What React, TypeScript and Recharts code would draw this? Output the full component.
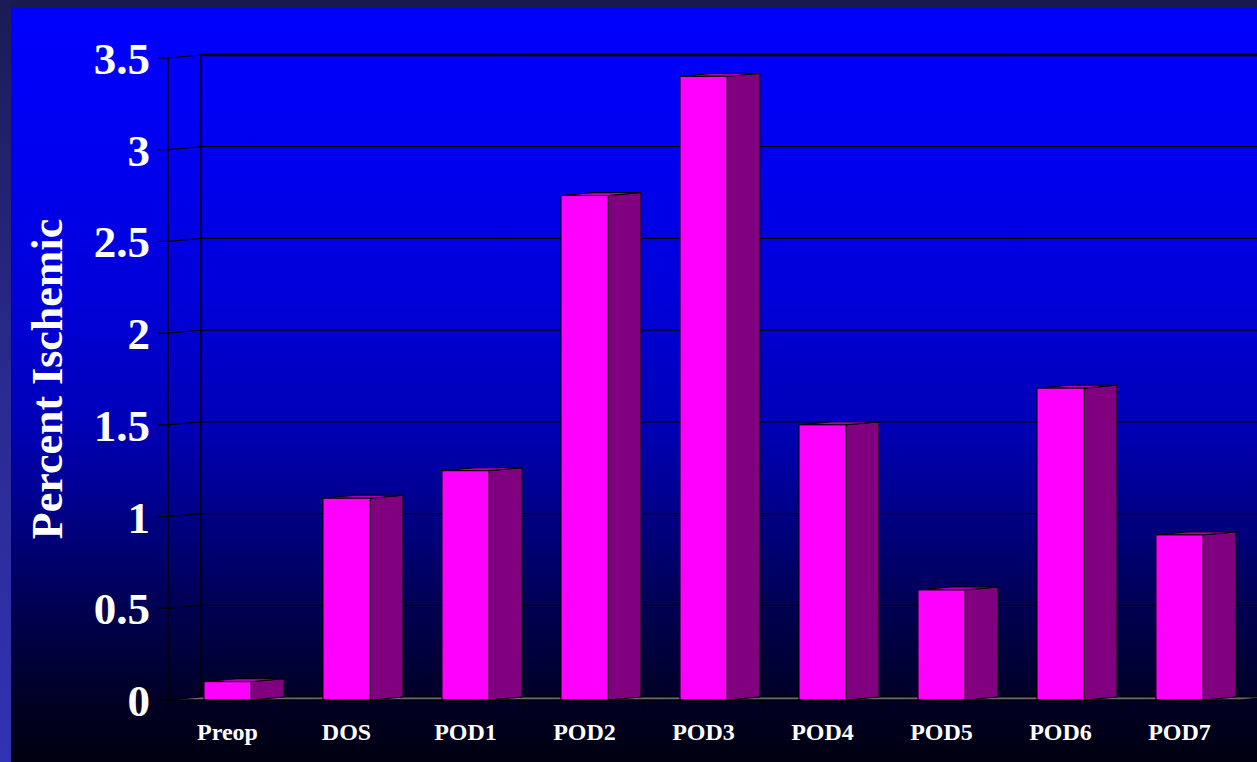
import React from 'react';
import { BarChart, Bar, XAxis, YAxis, CartesianGrid, ReferenceArea } from 'recharts';

const categories = ['Preop', 'DOS', 'POD1', 'POD2', 'POD3', 'POD4', 'POD5', 'POD6', 'POD7'];
const percentIschemic = [0.1, 1.1, 1.25, 2.75, 3.4, 1.5, 0.6, 1.7, 0.9];
const yTicks = [0, 0.5, 1, 1.5, 2, 2.5, 3, 3.5];

const chartData = categories.map((name, i) => ({ name, value: percentIschemic[i] }));

// offset of the back plane for the pseudo-3D look
const DX = 33;
const DY = 3;

const FONT = '"Liberation Serif", "Times New Roman", serif';

const Bar3D = (props: any) => {
  const { x, y, width, height } = props;
  if (!height) return null;
  const side = `M${x + width},${y} L${x + width + DX},${y - DY} L${x + width + DX},${y + height - DY} L${x + width},${y + height} Z`;
  const top = `M${x},${y} L${x + DX},${y - DY} L${x + width + DX},${y - DY} L${x + width},${y} Z`;
  return (
    <g stroke="#000" strokeWidth={1}>
      <path d={side} fill="#800080" />
      <path d={top} fill="#b000b0" />
      <rect x={x} y={y} width={width} height={height} fill="#ff00ff" />
    </g>
  );
};

// grid lines live on the back wall, joined to the front axis by a short diagonal
const BackGridLine = (props: any) => {
  const { x1, y1, x2, y } = props;
  const isTop = typeof y === 'number' && Math.abs(y1 - y) < 0.5;
  return (
    <g key={props.key}>
      <line x1={x1} y1={y1} x2={x1 + DX} y2={y1 - DY} stroke="#000" strokeWidth={1.2} />
      <line x1={x1 + DX} y1={y1 - DY} x2={x2 + DX} y2={y1 - DY} stroke="#000" strokeWidth={isTop ? 2.5 : 1.2} />
    </g>
  );
};

// back wall edge and the thin floor slab
const WallAndFloor = (props: any) => {
  const { x, y, width, height } = props;
  const bottom = y + height;
  const floor = `M${x},${bottom} L${x + DX},${bottom - DY} L${x + width + DX},${bottom - DY} L${x + width},${bottom} Z`;
  return (
    <g>
      <line x1={x + DX} y1={y - DY} x2={x + DX} y2={bottom - DY} stroke="#000" strokeWidth={1.5} />
      <path d={floor} fill="#6a6a78" stroke="#000" strokeWidth={1} />
    </g>
  );
};

const CategoryTick = (props: any) => {
  const { x, y, payload, index, visibleTicksCount } = props;
  const half = payload.offset ?? 0;
  const marks = [x - half];
  if (index === visibleTicksCount - 1) marks.push(x + half);
  return (
    <g>
      {marks.map((mx, i) => (
        <line key={i} x1={mx} y1={y - 10} x2={mx} y2={y} stroke="#000" strokeWidth={1.2} />
      ))}
      <text x={x} y={y + 30} textAnchor="middle" fill="#fff" fontSize={24} fontWeight="bold" fontFamily={FONT}>
        {payload.value}
      </text>
    </g>
  );
};

const AxisTitle = (props: any) => {
  const { viewBox } = props;
  const cx = viewBox.x + 39;
  const cy = viewBox.y + viewBox.height / 2;
  return (
    <text
      x={cx}
      y={cy}
      transform={`rotate(-90 ${cx} ${cy})`}
      textAnchor="middle"
      dominantBaseline="central"
      fill="#fff"
      fontSize={44}
      fontWeight="bold"
      fontFamily={FONT}
    >
      Percent Ischemic
    </text>
  );
};

export default function App() {
  return (
    <div style={{ position: 'absolute', left: 0, top: 0, width: 1257, height: 762, background: '#1a1a4e', overflow: 'hidden' }}>
      <div
        style={{
          position: 'absolute', left: 0, top: 0, width: 11, height: 762,
          background: 'linear-gradient(to bottom, #1b1b55 0%, #2a2a90 50%, #3232b4 100%)',
        }}
      />
      <div
        style={{
          position: 'absolute', left: 11, top: 7, width: 1246, height: 755,
          background:
            'linear-gradient(to bottom, #0000ff 0%, #0000f0 19%, #0000d8 39%, #0000b8 55%, #000090 65%, #000058 78%, #000025 92%, #000010 100%)',
        }}
      />
      <div style={{ position: 'absolute', left: 0, top: 0 }}>
        <BarChart width={1257} height={762} data={chartData} margin={{ top: 58, right: 18, left: 8, bottom: 0 }}>
          <CartesianGrid vertical={false} horizontal={BackGridLine} />
          <ReferenceArea y1={0} y2={3.5} shape={WallAndFloor} />
          <XAxis
            dataKey="name"
            height={62}
            axisLine={{ stroke: '#000', strokeWidth: 1.2 }}
            tickLine={false}
            tickSize={10}
            tickMargin={0}
            interval={0}
            tick={CategoryTick}
          />
          <YAxis
            width={160}
            domain={[0, 3.5]}
            ticks={yTicks}
            axisLine={{ stroke: '#000', strokeWidth: 1.5 }}
            tickLine={{ stroke: '#000', strokeWidth: 1.2 }}
            tickSize={10}
            tickMargin={8}
            tick={{ fill: '#fff', fontSize: 45, fontWeight: 'bold', fontFamily: FONT }}
            label={AxisTitle}
          />
          <Bar dataKey="value" barSize={47} shape={Bar3D} isAnimationActive={false} />
        </BarChart>
      </div>
    </div>
  );
}
